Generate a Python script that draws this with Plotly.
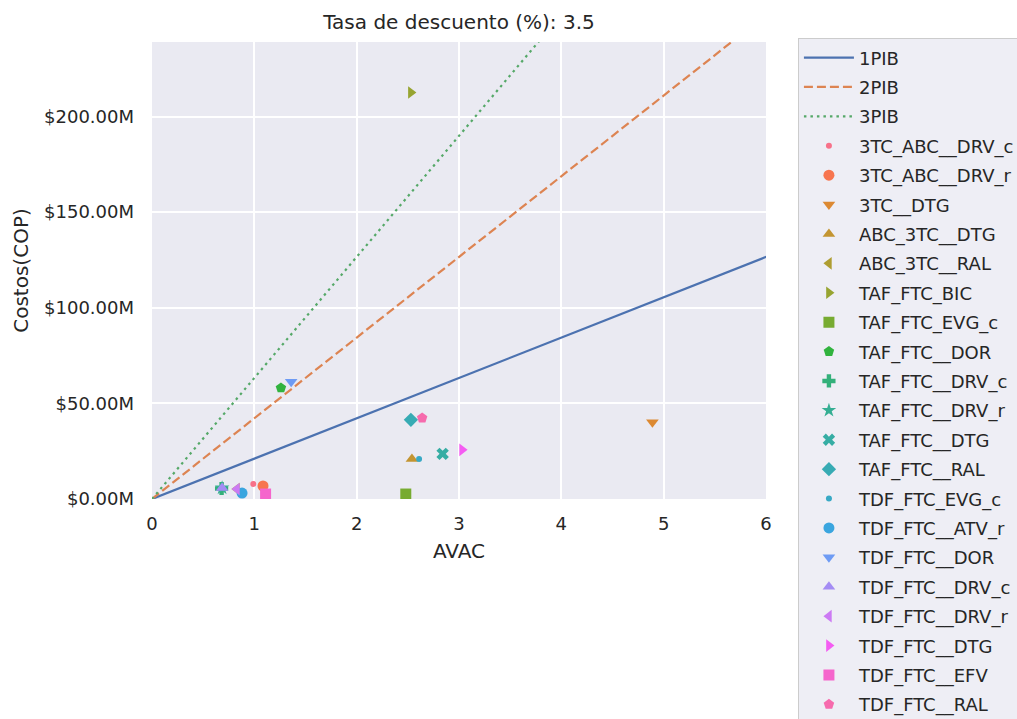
import math
import plotly.graph_objects as go

# Treatment regimens: effectiveness (AVAC) and cost (millions of COP)
regimens = [
    "3TC_ABC__DRV_c", "3TC_ABC__DRV_r", "3TC__DTG", "ABC_3TC__DTG", "ABC_3TC__RAL",
    "TAF_FTC_BIC", "TAF_FTC_EVG_c", "TAF_FTC__DOR", "TAF_FTC__DRV_c", "TAF_FTC__DRV_r",
    "TAF_FTC__DTG", "TAF_FTC__RAL", "TDF_FTC_EVG_c", "TDF_FTC__ATV_r", "TDF_FTC__DOR",
    "TDF_FTC__DRV_c", "TDF_FTC__DRV_r", "TDF_FTC__DTG", "TDF_FTC__EFV", "TDF_FTC__RAL",
]
avac = [0.99, 1.085, 4.89, 2.54, 0.83,
        2.53, 2.48, 1.26, 0.68, 0.685,
        2.84, 2.53, 2.61, 0.88, 1.36,
        0.685, 0.83, 3.03, 1.11, 2.64]
costos_m = [7.9, 6.8, 40.1, 20.9, 5.2,
            212.6, 2.6, 58.1, 5.5, 5.8,
            23.6, 41.4, 20.9, 3.1, 61.3,
            5.8, 5.2, 25.7, 2.6, 42.4]

# Willingness-to-pay thresholds (multiples of GDP per capita, millions of COP)
pib_per_capita_m = 21.1
umbral_names = ["1PIB", "2PIB", "3PIB"]
umbral_mult = [1, 2, 3]
umbral_x = [0, 7]

discount_rate = 3.5
y_tickvals = [0, 50, 100, 150, 200]
y_ticktext = ["$0.00M", "$50.00M", "$100.00M", "$150.00M", "$200.00M"]
x_tickvals = [0, 1, 2, 3, 4, 5, 6]

# Marker cycle used for the regimens
marker_cycle = ["circle", "circle", "triangle-down", "triangle-up", "triangle-left",
                "triangle-right", "square", "pentagon", "cross", "star", "x", "diamond"]
small_dot = [True, False, False, False, False, False, False, False, False, False, False, False]


# --- HUSL palette (same as seaborn.husl_palette) ---
_M = [[3.2406, -1.5372, -0.4986], [-0.9689, 1.8758, 0.0415], [0.0557, -0.2040, 1.0570]]
_REF_U, _REF_V = 0.19784, 0.46834


def _max_chroma(L, H):
    hrad = H / 360.0 * 2 * math.pi
    sinH, cosH = math.sin(hrad), math.cos(hrad)
    sub1 = (L + 16) ** 3 / 1560896.0
    sub2 = sub1 if sub1 > 0.008856 else L / 903.3
    result = float("inf")
    for m1, m2, m3 in _M:
        top = (0.99915 * m1 + 1.05122 * m2 + 1.14460 * m3) * sub2
        rbottom = 0.86330 * m3 - 0.17266 * m2
        lbottom = 0.12949 * m3 - 0.38848 * m1
        bottom = (rbottom * sinH + lbottom * cosH) * sub2
        for t in (0.0, 1.0):
            C = L * (top - 1.05122 * t) / (bottom + 0.17266 * sinH * t)
            if 0.0 < C < result:
                result = C
    return result


def _husl_to_rgb(h, s, l):
    C = _max_chroma(l, h) / 100.0 * s
    hrad = h / 360.0 * 2 * math.pi
    U, V = math.cos(hrad) * C, math.sin(hrad) * C
    t = (l + 16) / 116.0
    Y = t ** 3 if t ** 3 > 0.008856 else (116 * t - 16) / 903.3
    varU = U / (13 * l) + _REF_U
    varV = V / (13 * l) + _REF_V
    X = -(9 * Y * varU) / ((varU - 4) * varV - varU * varV)
    Z = (9 * Y - 15 * varV * Y - varV * X) / (3 * varV)
    out = []
    for row in _M:
        c = row[0] * X + row[1] * Y + row[2] * Z
        c = 12.92 * c if c <= 0.0031308 else 1.055 * c ** (1 / 2.4) - 0.055
        out.append(min(max(c, 0.0), 1.0))
    return "#%02x%02x%02x" % tuple(int(round(v * 255)) for v in out)


def husl_palette(n, h=0.01, s=0.9, l=0.65):
    hues = [((i / n) + h) % 1 * 359 for i in range(n)]
    return [_husl_to_rgb(hh, s * 99, l * 99) for hh in hues]


colors = husl_palette(len(regimens))
line_colors = ["#4c72b0", "#dd8452", "#55a868"]
line_dashes = ["solid", "9px,4px", "2.5px,4px"]

TEXT = "#262626"
FONT = "DejaVu Sans"

fig = go.Figure()

for name, mult, col, dash in zip(umbral_names, umbral_mult, line_colors, line_dashes):
    fig.add_trace(go.Scatter(
        x=umbral_x, y=[pib_per_capita_m * mult * v for v in umbral_x],
        mode="lines", name=name, legendgroup=name,
        line=dict(color=col, width=2.2, dash=dash),
    ))

for i, name in enumerate(regimens):
    k = i % len(marker_cycle)
    fig.add_trace(go.Scatter(
        x=[avac[i]], y=[costos_m[i]], mode="markers", name=name, legendgroup=name,
        marker=dict(symbol=marker_cycle[k], color=colors[i],
                    size=6 if small_dot[k] else 11, line=dict(width=0)),
    ))

fig.update_layout(
    width=1017, height=719,
    paper_bgcolor="white", plot_bgcolor="#eaeaf2",
    font=dict(family=FONT, size=18, color=TEXT),
    margin=dict(l=152, r=251, t=42, b=220, autoexpand=False),
    title=dict(text=f"Tasa de descuento (%): {discount_rate}", x=0.5, xref="paper",
               xanchor="center", y=1 - 22 / 719, yref="container", yanchor="middle",
               font=dict(size=20, color=TEXT, family=FONT)),
    showlegend=True,
    legend=dict(x=1.052, xanchor="left", y=1.008, yanchor="top",
                bgcolor="rgba(234,234,242,0.8)", bordercolor="#cccccc", borderwidth=1,
                font=dict(size=18, color=TEXT, family=FONT),
                tracegroupgap=3, itemwidth=50, maxheight=1000),
)

fig.update_xaxes(
    range=[0, 6], tickvals=x_tickvals, showgrid=True, gridcolor="white", gridwidth=1.5,
    zeroline=False, showline=False, ticks="", tickfont=dict(size=18, color=TEXT),
    ticklabelstandoff=12,
    title=dict(text="AVAC", font=dict(size=20, color=TEXT), standoff=10),
)
fig.update_yaxes(
    range=[0, 239], tickvals=y_tickvals, ticktext=y_ticktext, showgrid=True,
    gridcolor="white", gridwidth=1.5, zeroline=False, showline=False, ticks="",
    tickfont=dict(size=18, color=TEXT), ticklabelstandoff=17,
    title=dict(text="Costos(COP)", font=dict(size=20, color=TEXT), standoff=10),
)

fig.write_html("out.html")
